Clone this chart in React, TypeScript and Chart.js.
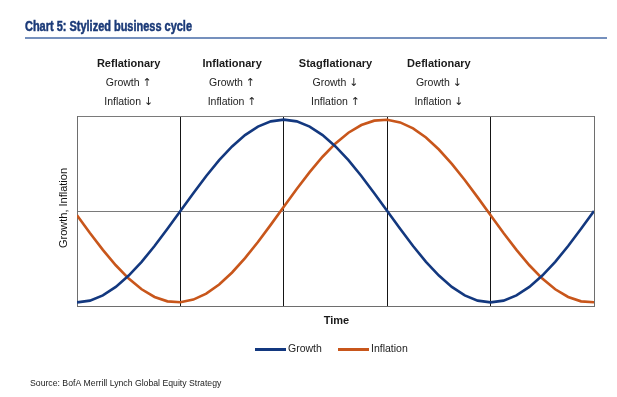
import React, { useEffect, useRef } from "react";
import { Chart, registerables } from "chart.js";

Chart.register(...registerables);

const TITLE = "Chart 5: Stylized business cycle";
const SOURCE = "Source: BofA Merrill Lynch Global Equity Strategy";
const PHASES = ["Reflationary", "Inflationary", "Stagflationary", "Deflationary"];
const GROWTH_ARROWS = ["↑", "↑", "↓", "↓"];
const INFLATION_ARROWS = ["↓", "↑", "↑", "↓"];
const SERIES_NAMES = ["Growth", "Inflation"];
const X_TITLE = "Time";
const Y_TITLE = "Growth, Inflation";

const TIME = [
  0, 0.125, 0.25, 0.375, 0.5, 0.625, 0.75, 0.875,
  1, 1.125, 1.25, 1.375, 1.5, 1.625, 1.75, 1.875,
  2, 2.125, 2.25, 2.375, 2.5, 2.625, 2.75, 2.875,
  3, 3.125, 3.25, 3.375, 3.5, 3.625, 3.75, 3.875,
  4, 4.125, 4.25, 4.375, 4.5, 4.625, 4.75, 4.875, 5,
];

const GROWTH = [
  -1, -0.981, -0.924, -0.831, -0.707, -0.556, -0.383, -0.195,
  0, 0.195, 0.383, 0.556, 0.707, 0.831, 0.924, 0.981,
  1, 0.981, 0.924, 0.831, 0.707, 0.556, 0.383, 0.195,
  0, -0.195, -0.383, -0.556, -0.707, -0.831, -0.924, -0.981,
  -1, -0.981, -0.924, -0.831, -0.707, -0.556, -0.383, -0.195, 0,
];

const INFLATION = [
  -0.047, -0.241, -0.426, -0.594, -0.74, -0.857, -0.941, -0.989,
  -0.999, -0.97, -0.905, -0.805, -0.673, -0.516, -0.339, -0.149,
  0.047, 0.241, 0.426, 0.594, 0.74, 0.857, 0.941, 0.989,
  0.999, 0.97, 0.905, 0.805, 0.673, 0.516, 0.339, 0.149,
  -0.047, -0.241, -0.426, -0.594, -0.74, -0.857, -0.941, -0.989, -0.999,
];

const Y_MIN = -1.04;
const Y_MAX = 1.04;
const X_MIN = 0;
const X_MAX = 5;

const NAVY = "#13387f";
const ORANGE = "#c8561b";
const FONT = "'Liberation Sans', Arial, sans-serif";
const ARROW_FONT = "'DejaVu Sans', sans-serif";

function drawLabelWithArrow(ctx: CanvasRenderingContext2D, label: string, arrow: string, cx: number, y: number) {
  ctx.font = `10.5px ${FONT}`;
  const lw = ctx.measureText(label + " ").width;
  ctx.font = `11px ${ARROW_FONT}`;
  const aw = ctx.measureText(arrow).width;
  const x0 = cx - (lw + aw) / 2;
  ctx.textAlign = "left";
  ctx.font = `10.5px ${FONT}`;
  ctx.fillText(label, x0, y);
  ctx.font = `11px ${ARROW_FONT}`;
  ctx.fillText(arrow, x0 + lw, y + 0.5);
}

const decorPlugin = {
  id: "decor",
  afterDraw(chart: any) {
    const ctx = chart.ctx as CanvasRenderingContext2D;
    const xs = chart.scales.x;
    const area = chart.chartArea;
    ctx.save();

    // Title (condensed)
    ctx.save();
    ctx.fillStyle = "#1b3a78";
    ctx.strokeStyle = "#1b3a78";
    ctx.lineWidth = 0.5;
    ctx.font = `bold 14px ${FONT}`;
    ctx.textBaseline = "middle";
    ctx.textAlign = "left";
    const w = ctx.measureText(TITLE).width;
    ctx.translate(25, 27);
    ctx.scale(167 / w, 1);
    ctx.fillText(TITLE, 0, 0);
    ctx.strokeText(TITLE, 0, 0);
    ctx.restore();
    ctx.strokeStyle = "#7590bd";
    ctx.lineWidth = 2;
    ctx.beginPath();
    ctx.moveTo(25, 38);
    ctx.lineTo(607, 38);
    ctx.stroke();

    // Phase headers
    ctx.textBaseline = "middle";
    PHASES.forEach((p, i) => {
      const cx = (xs.getPixelForValue(i) + xs.getPixelForValue(i + 1)) / 2;
      ctx.fillStyle = "#1a1a1a";
      ctx.textAlign = "center";
      ctx.font = `bold 11px ${FONT}`;
      ctx.fillText(p, cx, 64);
      ctx.fillStyle = "#222";
      drawLabelWithArrow(ctx, SERIES_NAMES[0], GROWTH_ARROWS[i], cx, 83);
      drawLabelWithArrow(ctx, SERIES_NAMES[1], INFLATION_ARROWS[i], cx, 102);
    });

    // Axis titles
    ctx.textAlign = "center";
    ctx.fillStyle = "#1a1a1a";
    ctx.font = `bold 11px ${FONT}`;
    ctx.fillText(X_TITLE, (area.left + area.right) / 2 + 1, 321);
    ctx.save();
    ctx.translate(64, (area.top + area.bottom) / 2 - 3);
    ctx.rotate(-Math.PI / 2);
    ctx.font = `11px ${FONT}`;
    ctx.fillStyle = "#111";
    ctx.fillText(Y_TITLE, 0, 0);
    ctx.restore();

    // Legend
    const ds = chart.data.datasets;
    const legendItems = [
      { x: 255, ds: ds[0] },
      { x: 338, ds: ds[1] },
    ];
    legendItems.forEach((it) => {
      ctx.strokeStyle = it.ds.borderColor;
      ctx.lineWidth = 3;
      ctx.beginPath();
      ctx.moveTo(it.x, 349.5);
      ctx.lineTo(it.x + 31, 349.5);
      ctx.stroke();
      ctx.fillStyle = "#222";
      ctx.font = `10.5px ${FONT}`;
      ctx.textAlign = "left";
      ctx.fillText(it.ds.label, it.x + 33, 349);
    });

    // Source
    ctx.fillStyle = "#222";
    ctx.font = `8.7px ${FONT}`;
    ctx.textAlign = "left";
    ctx.fillText(SOURCE, 30, 384);

    ctx.restore();
  },
};

export default function App() {
  const ref = useRef<HTMLCanvasElement | null>(null);

  useEffect(() => {
    if (!ref.current) return;
    const chart = new Chart(ref.current, {
      type: "line",
      data: {
        datasets: [
          {
            label: SERIES_NAMES[0],
            data: TIME.map((t, i) => ({ x: t, y: GROWTH[i] })),
            borderColor: NAVY,
            borderWidth: 2.6,
            pointRadius: 0,
            tension: 0,
          },
          {
            label: SERIES_NAMES[1],
            data: TIME.map((t, i) => ({ x: t, y: INFLATION[i] })),
            borderColor: ORANGE,
            borderWidth: 2.6,
            pointRadius: 0,
            tension: 0,
          },
        ],
      },
      options: {
        animation: false,
        responsive: false,
        devicePixelRatio: 1,
        layout: { padding: { left: 77, right: 23, top: 116, bottom: 91 } },
        plugins: {
          legend: { display: false },
          tooltip: { enabled: false },
        },
        scales: {
          x: {
            type: "linear",
            min: X_MIN,
            max: X_MAX,
            ticks: { display: false, stepSize: 1 },
            grid: {
              drawTicks: false,
              lineWidth: 1,
              color: (c: any) =>
                c.tick && (c.tick.value === X_MIN || c.tick.value === X_MAX) ? "#6e6e6e" : "#151515",
            },
            border: { display: true, color: "#6e6e6e" },
            afterFit: (s: any) => {
              s.height = 0;
            },
          },
          y: {
            min: Y_MIN,
            max: Y_MAX,
            ticks: { display: false },
            afterBuildTicks: (s: any) => {
              s.ticks = [{ value: Y_MIN }, { value: 0 }, { value: Y_MAX }];
            },
            grid: { drawTicks: false, lineWidth: 1, color: "#7a7a7a" },
            border: { display: true, color: "#6e6e6e" },
            afterFit: (s: any) => {
              s.width = 0;
            },
          },
        },
      },
      plugins: [decorPlugin],
    });
    return () => chart.destroy();
  }, []);

  return (
    <div style={{ position: "absolute", left: 0, top: 0, width: 617, height: 397, background: "#fff" }}>
      <canvas ref={ref} width={617} height={397} style={{ width: 617, height: 397, display: "block" }} />
    </div>
  );
}
